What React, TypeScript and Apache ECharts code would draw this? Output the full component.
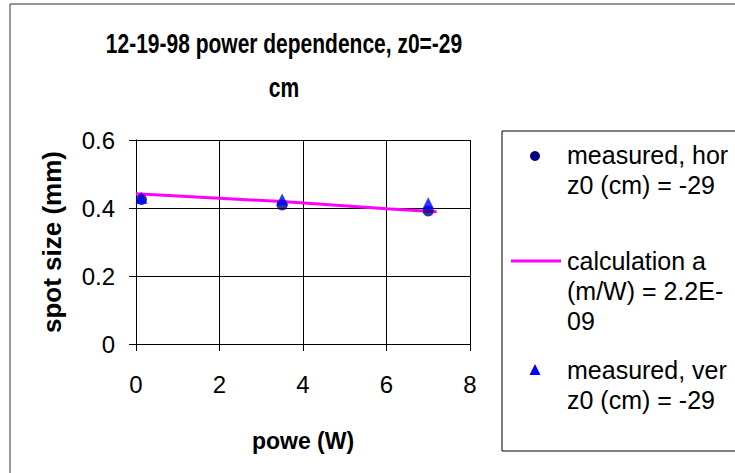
import React, { useEffect, useRef } from "react";
import * as echarts from "echarts";

const titleLines = ["12-19-98 power dependence, z0=-29", "cm"];
const xAxisName = "powe (W)";
const yAxisName = "spot size (mm)";

const horX = [0.13, 3.5, 7.0];
const horY = [0.425, 0.409, 0.391];
const verX = [0.13, 3.5, 7.0];
const verY = [0.43, 0.425, 0.414];
const calcX = [0, 3.5, 6, 7.2];
const calcY = [0.442, 0.419, 0.398, 0.389];

const legendNames = [
  ["measured, hor", "z0 (cm) = -29"],
  ["calculation a", "(m/W) = 2.2E-", "09"],
  ["measured, ver", "z0 (cm) = -29"],
];

const FONT = "'Liberation Sans', Arial, sans-serif";

export default function App() {
  const ref = useRef<HTMLDivElement>(null);
  useEffect(() => {
    if (!ref.current) return;
    const chart = echarts.init(ref.current, undefined, { renderer: "svg" });
    const pair = (xs: number[], ys: number[]) => xs.map((x, i) => [x, ys[i]]);
    const legendText = (lines: string[], x: number, y: number) =>
      lines.map((t, i) => ({
        type: "text",
        x,
        y: y + i * 30,
        style: { text: t, fill: "#000", font: `25px ${FONT}`, textAlign: "left", textVerticalAlign: "middle" },
      }));
    chart.setOption({
      animation: false,
      backgroundColor: "#fff",
      textStyle: { fontFamily: FONT },
      grid: { left: 136, right: 265, top: 140, bottom: 129 },
      xAxis: {
        type: "value",
        min: 0,
        max: 8,
        interval: 2,
        name: xAxisName,
        nameLocation: "middle",
        nameGap: 85,
        nameTextStyle: { fontSize: 23, fontWeight: "bold", color: "#000", fontFamily: FONT },
        axisLine: { show: true, lineStyle: { color: "#000", width: 1 } },
        axisTick: { show: true, inside: false, length: 7, lineStyle: { color: "#000" } },
        axisLabel: { fontSize: 24, color: "#000", margin: 28, fontFamily: FONT },
        splitLine: { show: true, lineStyle: { color: "#000", width: 1 } },
      },
      yAxis: {
        type: "value",
        min: 0,
        max: 0.6,
        interval: 0.2,
        name: yAxisName,
        nameLocation: "middle",
        nameGap: 71,
        nameTextStyle: { fontSize: 26, fontWeight: "bold", color: "#000", fontFamily: FONT },
        axisLine: { show: true, lineStyle: { color: "#000", width: 1 } },
        axisTick: { show: true, inside: false, length: 7, lineStyle: { color: "#000" } },
        axisLabel: {
          fontSize: 24,
          color: "#000",
          margin: 21,
          fontFamily: FONT,
          formatter: (v: number) => (v === 0 ? "0" : String(Math.round(v * 10) / 10)),
        },
        splitLine: { show: true, lineStyle: { color: "#000", width: 1 } },
      },
      graphic: [
        {
          type: "rect",
          shape: { x: 10, y: 4, width: 800, height: 600 },
          style: { fill: "none", stroke: "#333", lineWidth: 1 },
          silent: true,
        },
        {
          type: "text",
          x: 284,
          y: 43,
          scaleX: 0.75,
          style: { text: titleLines[0], fill: "#000", font: `bold 28px ${FONT}`, textAlign: "center", textVerticalAlign: "middle" },
        },
        {
          type: "text",
          x: 284,
          y: 87,
          scaleX: 0.75,
          style: { text: titleLines[1], fill: "#000", font: `bold 28px ${FONT}`, textAlign: "center", textVerticalAlign: "middle" },
        },
        {
          type: "rect",
          shape: { x: 502, y: 131, width: 300, height: 320 },
          style: { fill: "#fff", stroke: "#000", lineWidth: 1 },
          silent: true,
        },
        { type: "circle", shape: { cx: 535, cy: 156, r: 5 }, style: { fill: "#000080" } },
        ...legendText(legendNames[0], 567, 155),
        { type: "line", shape: { x1: 511, y1: 261, x2: 561, y2: 261 }, style: { stroke: "#FF00FF", lineWidth: 3 } },
        ...legendText(legendNames[1], 567, 261),
        { type: "polygon", shape: { points: [[535, 364], [529.5, 375], [540.5, 375]] }, style: { fill: "#0000FF" } },
        ...legendText(legendNames[2], 567, 370),
      ],
      series: [
        {
          name: legendNames[1].join(" "),
          type: "line",
          data: pair(calcX, calcY),
          showSymbol: false,
          symbol: "none",
          lineStyle: { color: "#FF00FF", width: 3 },
          z: 3,
        },
        {
          name: legendNames[0].join(" "),
          type: "scatter",
          data: pair(horX, horY),
          symbol: "circle",
          symbolSize: 11,
          itemStyle: { color: "#000080" },
          z: 4,
        },
        {
          name: legendNames[2].join(" "),
          type: "scatter",
          data: pair(verX, verY),
          symbol: "triangle",
          symbolSize: 12,
          itemStyle: { color: "#0000FF" },
          z: 5,
        },
      ],
    });
    return () => chart.dispose();
  }, []);
  return (
    <div
      ref={ref}
      style={{ position: "fixed", left: 0, top: 0, width: 735, height: 473, background: "#fff" }}
    />
  );
}
